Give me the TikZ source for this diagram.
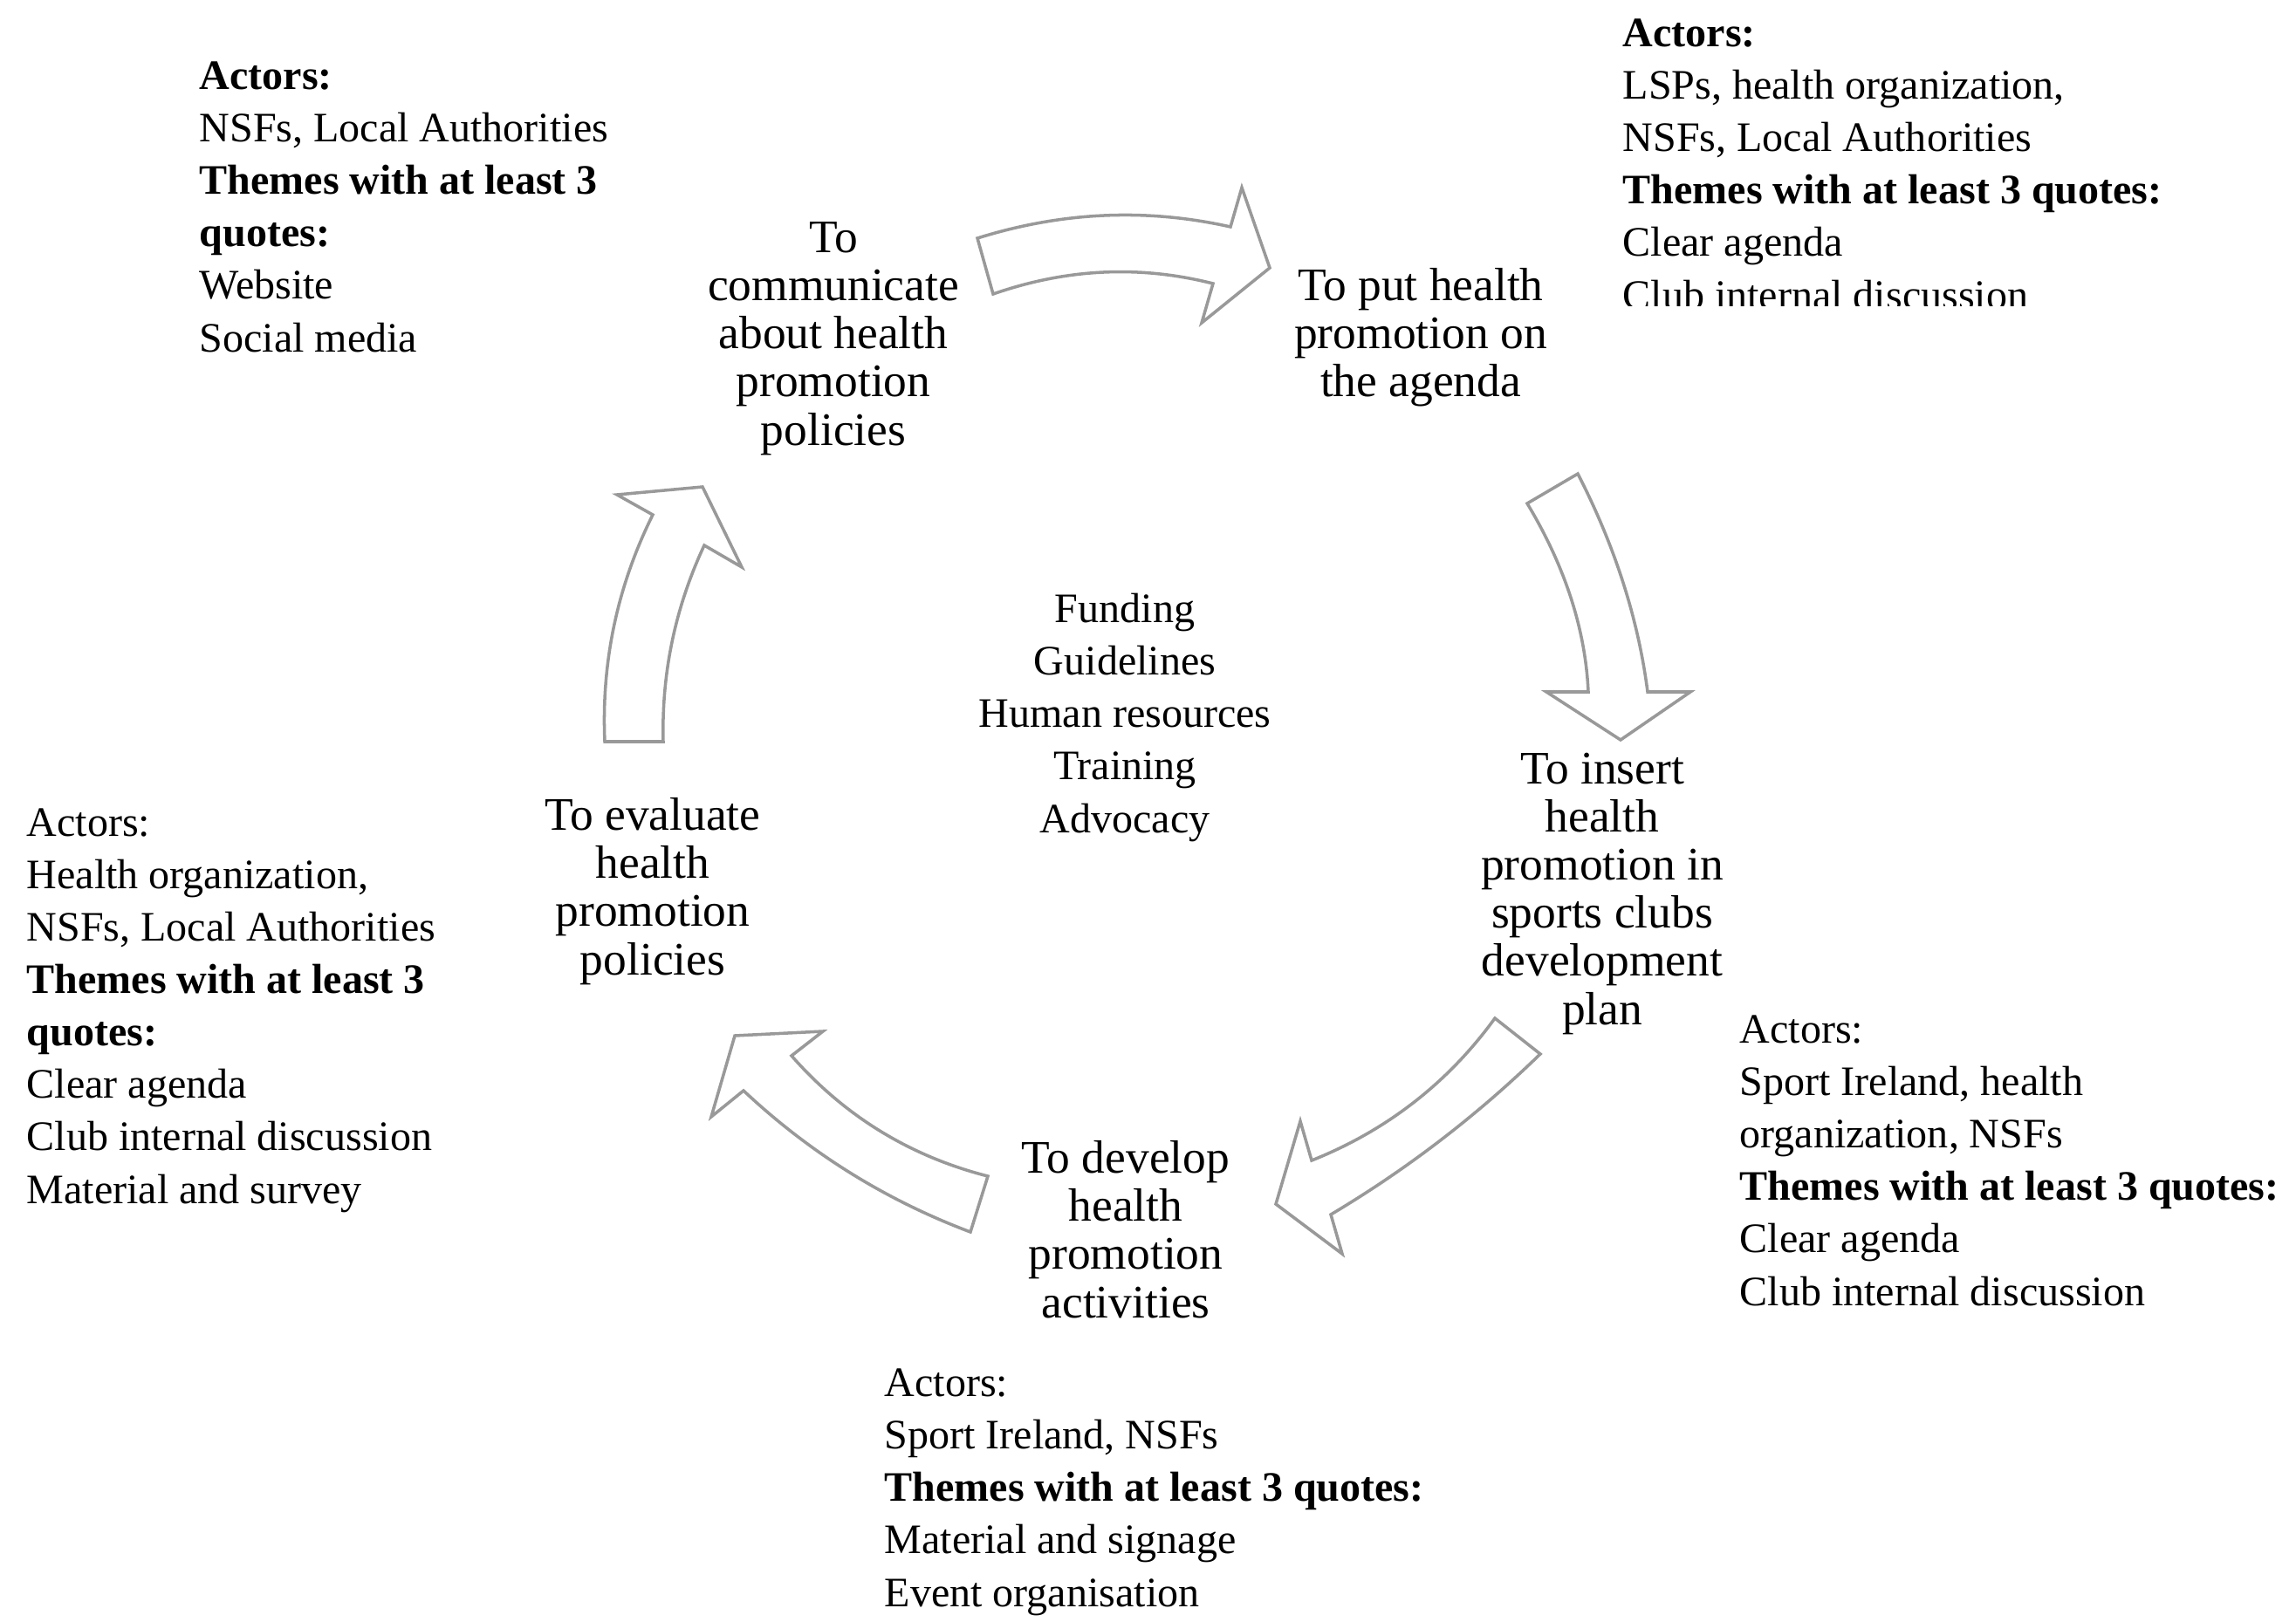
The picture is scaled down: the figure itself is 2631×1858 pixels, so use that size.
\documentclass[tikz,border=0pt]{standalone}
\usepackage{fontspec}
\setmainfont{Liberation Serif}
\begin{document}
% multi-line nodes are placed by the baseline of their last line
\begin{tikzpicture}[x=0.01cm,y=-0.01cm,
  blk/.style={anchor=base west,align=left,inner sep=0pt,font=\fontsize{13.66}{17.07}\selectfont},
  mid/.style={anchor=base,align=center,inner sep=0pt,font=\fontsize{13.66}{17.07}\selectfont},
  stp/.style={anchor=base,align=center,inner sep=0pt,font=\fontsize{15.2}{15.65}\selectfont},
  barrow/.style={draw=black!40,fill=white,line width=1pt,line join=miter}]
\useasboundingbox (0,0) rectangle (2631,1858);

% block arrows of the cycle
\draw[barrow] (1120,273) .. controls (1216.7,242.7) and (1313.3,238.3) .. (1410,260)
  -- (1423,215) -- (1455,307) -- (1377,370) -- (1390,325)
  .. controls (1306,303.7) and (1222,307.7) .. (1138,337) -- cycle;
\draw[barrow] (1808,543) .. controls (1850.7,626.3) and (1877.3,709.7) .. (1888,793)
  -- (1937,793) -- (1857,848) -- (1772,793) -- (1820,793)
  .. controls (1816.7,721) and (1793.3,649) .. (1750,577) -- cycle;
\draw[barrow] (1765,1208) .. controls (1692.3,1278.7) and (1612.3,1340) .. (1525,1392)
  -- (1538,1437) -- (1462,1380) -- (1490,1285) -- (1503,1330)
  .. controls (1589,1295.7) and (1659,1241.3) .. (1713,1167) -- cycle;
\draw[barrow] (1112,1412) .. controls (1014.5,1375.3) and (927.9,1321.3) .. (852,1250)
  -- (815,1280) -- (842,1187) -- (943,1182) -- (907,1210)
  .. controls (967.7,1279.2) and (1042.7,1325.2) .. (1132,1348) -- cycle;
\draw[barrow] (693,850) .. controls (689,758.7) and (707.3,672) .. (748,590)
  -- (707,567) -- (805,558) -- (850,650) -- (807,625)
  .. controls (773.7,696.3) and (758,771.3) .. (760,850) -- cycle;

% steps of the cycle
\node[stp] (s1) at (955,510) {To\\communicate\\about health\\promotion\\policies};
\node[stp] (s2) at (1628,455) {To put health\\promotion on\\the agenda};
\node[stp] (s3) at (1836,1174) {To insert\\health\\promotion in\\sports clubs\\development\\plan};
\node[stp] (s4) at (1290,1510) {To develop\\health\\promotion\\activities};
\node[stp] (s5) at (748,1117) {To evaluate\\health\\promotion\\policies};

% resources in the middle
\node[mid] (res) at (1289,954) {Funding\\Guidelines\\Human resources\\Training\\Advocacy};

% actors and themes for each step
\node[blk] (a1) at (228,403) {\textbf{Actors:}\\NSFs, Local Authorities\\\textbf{Themes with at least 3}\\\textbf{quotes:}\\Website\\Social media};
\begin{scope}
  \clip (1800,0) rectangle (2631,351);
  \node[blk] (a2) at (1859,354) {\textbf{Actors:}\\LSPs, health organization,\\NSFs, Local Authorities\\\textbf{Themes with at least 3 quotes:}\\Clear agenda\\Club internal discussion};
\end{scope}
\node[blk] (a3) at (1993,1496) {Actors:\\Sport Ireland, health\\organization, NSFs\\\textbf{Themes with at least 3 quotes:}\\Clear agenda\\Club internal discussion};
\node[blk] (a4) at (1013,1841) {Actors:\\Sport Ireland, NSFs\\\textbf{Themes with at least 3 quotes:}\\Material and signage\\Event organisation};
\node[blk] (a5) at (30,1379) {Actors:\\Health organization,\\NSFs, Local Authorities\\\textbf{Themes with at least 3}\\\textbf{quotes:}\\Clear agenda\\Club internal discussion\\Material and survey};
\end{tikzpicture}
\end{document}
